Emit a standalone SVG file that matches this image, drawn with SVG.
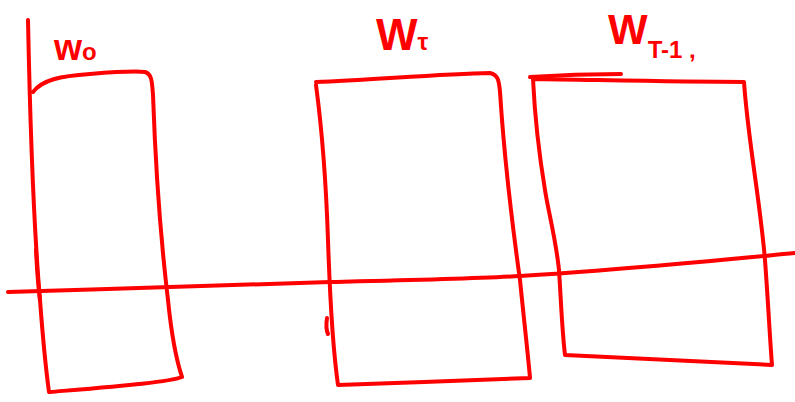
<svg xmlns="http://www.w3.org/2000/svg" width="795" height="402" viewBox="0 0 795 402">
<style>
.s{fill:none;stroke:#ff0000;stroke-width:4;stroke-linecap:round;stroke-linejoin:round}
.t{font-family:"Liberation Sans",Arial,sans-serif;fill:#ff0000;font-size:36px;font-weight:bold}
.sub{font-size:24px}
</style>
<rect width="795" height="402" fill="#ffffff"/>
<g id="axis" class="s">
<path d="M8,292 C120,289 250,284 330,282 C420,280 470,279 520,276 C620,270 700,262 795,253"/>
</g>
<g id="box-w0">
<path class="s" d="M28,20 C30,120 34,230 40,300 C43,340 46,370 49,392"/>
<path class="s" d="M33,92 C42,80 60,76 90,74 C115,72 135,71 145,72 C152,74 152,82 153,95 C156,180 162,250 168,300 C172,340 178,365 182,377 C170,382 120,386 50,392"/>
<path class="s" d="M36,250 C37,270 38,285 40,300"/>
<text class="t" x="54" y="60">w<tspan class="sub" dy="0">o</tspan></text>
</g>
<g id="box-wt">
<path class="s" d="M316,82 C370,80 440,74 490,73 C498,75 499,80 500,92 C505,170 513,230 520,280 C524,320 528,355 530,378 C470,380 400,383 338,385 C333,350 330,300 328,240 C326,180 322,130 316,85"/>
<path class="s" d="M327,318 C326,325 326,330 328,334"/>
<text class="t" x="376" y="50" style="font-size:44px">W<tspan class="sub" dy="0">τ</tspan></text>
</g>
<g id="box-wt1">
<path class="s" d="M530,77 C560,75 595,74 621,74"/>
<path class="s" d="M533,79 C600,80 680,82 744,82 C748,140 760,200 765,260 C768,300 770,340 772,365 C700,362 630,358 565,355 C562,330 561,300 559,270 C556,240 548,210 545,190 C540,160 535,120 533,79"/>
<text class="t" x="608" y="44" style="font-size:42px">W<tspan class="sub" dy="14">T-1 ,</tspan></text>
</g>
</svg>
